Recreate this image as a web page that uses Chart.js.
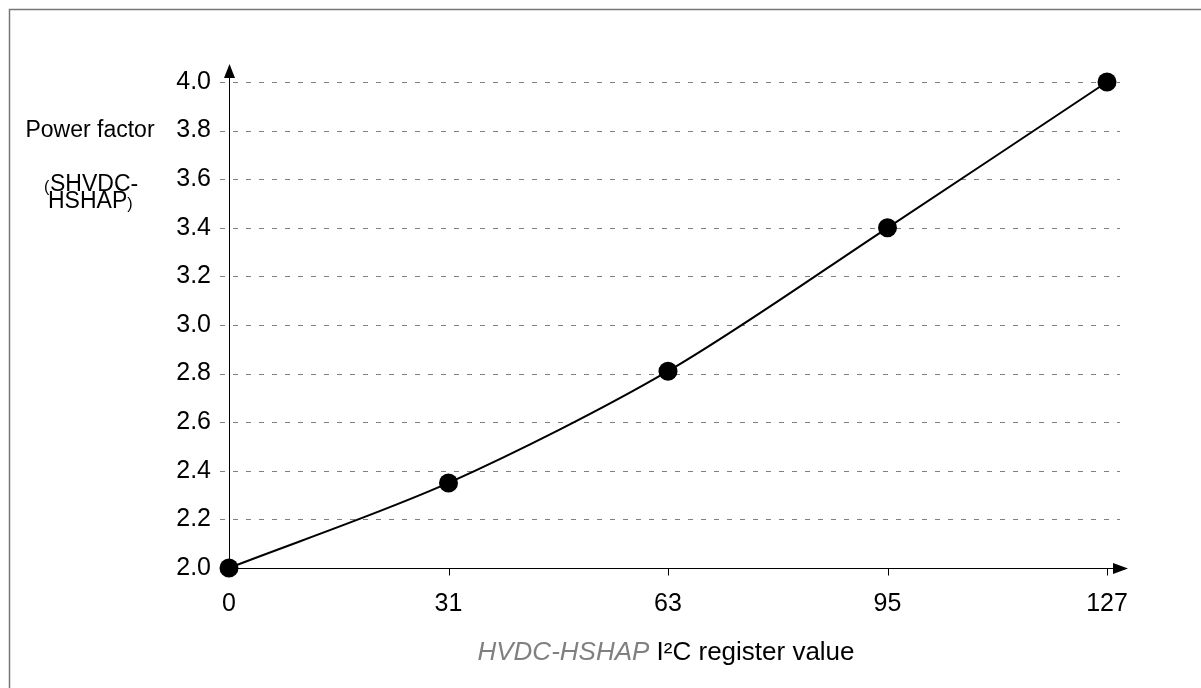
<!DOCTYPE html>
<html>
<head>
<meta charset="utf-8">
<script src="https://cdn.jsdelivr.net/npm/chart.js@4"></script>
<style>
  html, body { margin: 0; padding: 0; background: #fff; }
  #wrap { width: 1201px; height: 688px; position: relative; }
</style>
</head>
<body>
<div id="wrap"><canvas id="chart" width="1201" height="688"></canvas></div>
<script>
const registerValues = ["0", "31", "63", "95", "127"];
const powerFactor = [2.0, 2.35, 2.81, 3.4, 4.0];
const yMin = 2.0;
const yMax = 4.0;
const yStep = 0.2;
const yTitleLines = ["Power factor", "SHVDC-", "HSHAP"];
const xTitleItalic = "HVDC-HSHAP";
const xTitleRest = " I²C register value";

const FONT = "'Liberation Sans', Arial, sans-serif";

// axes, arrows, dashed grid, titles and frame
const decor = {
  id: "decor",
  beforeDatasetsDraw(chart) {
    const ctx = chart.ctx;
    const x = chart.scales.x;
    const y = chart.scales.y;
    const left = x.left;
    const bottom = y.bottom;

    ctx.save();
    // dashed grid
    ctx.strokeStyle = "#808080";
    ctx.lineWidth = 1;
    ctx.setLineDash([5, 8]);
    y.ticks.forEach((t) => {
      if (t.value === yMin) return;
      const py = Math.round(y.getPixelForValue(t.value)) + 0.5;
      ctx.beginPath();
      ctx.moveTo(left - 9, py);
      ctx.lineTo(x.right + 13, py);
      ctx.stroke();
    });
    ctx.setLineDash([]);

    // axes
    ctx.strokeStyle = "#000";
    ctx.fillStyle = "#000";
    ctx.lineWidth = 1;
    const ax = Math.round(left) + 0.5;
    const ay = Math.round(bottom) + 0.5;
    ctx.beginPath();
    ctx.moveTo(ax, ay);
    ctx.lineTo(ax, y.top - 8);
    ctx.moveTo(left - 8, ay);
    ctx.lineTo(x.right + 14, ay);
    ctx.stroke();
    // x ticks
    x.ticks.forEach((t, i) => {
      if (i === 0) return;
      const px = Math.round(x.getPixelForValue(i)) + 0.5;
      ctx.beginPath();
      ctx.moveTo(px, ay);
      ctx.lineTo(px, ay + 7);
      ctx.stroke();
    });
    // arrows
    ctx.beginPath();
    ctx.moveTo(ax, y.top - 18);
    ctx.lineTo(ax - 5.5, y.top - 4);
    ctx.lineTo(ax + 5.5, y.top - 4);
    ctx.closePath();
    ctx.fill();
    ctx.beginPath();
    ctx.moveTo(x.right + 21, ay);
    ctx.lineTo(x.right + 6, ay - 5.5);
    ctx.lineTo(x.right + 6, ay + 5.5);
    ctx.closePath();
    ctx.fill();

    // frame (top and left)
    ctx.strokeStyle = "#777";
    ctx.lineWidth = 1.5;
    ctx.beginPath();
    ctx.moveTo(9.5, chart.height);
    ctx.lineTo(9.5, 9.5);
    ctx.lineTo(chart.width, 9.5);
    ctx.stroke();

    // y title
    ctx.fillStyle = "#000";
    ctx.textBaseline = "middle";
    ctx.textAlign = "center";
    ctx.font = "23px " + FONT;
    ctx.fillText(yTitleLines[0], 90, 131);
    const w1 = ctx.measureText(yTitleLines[1]).width;
    const w2 = ctx.measureText(yTitleLines[2]).width;
    ctx.textAlign = "left";
    const l1 = 50;
    const l2 = 48;
    ctx.fillText(yTitleLines[1], l1, 185);
    ctx.fillText(yTitleLines[2], l2, 202);
    ctx.font = "16px " + FONT;
    ctx.fillText("(", l1 - 6, 188);
    ctx.fillText(")", l2 + w2, 205);

    // x title
    ctx.font = "italic 26px " + FONT;
    const wi = ctx.measureText(xTitleItalic).width;
    ctx.font = "26px " + FONT;
    const wr = ctx.measureText(xTitleRest).width;
    const start = 666 - (wi + wr) / 2;
    ctx.font = "italic 26px " + FONT;
    ctx.fillStyle = "#808080";
    ctx.fillText(xTitleItalic, start, 653);
    ctx.font = "26px " + FONT;
    ctx.fillStyle = "#000";
    ctx.fillText(xTitleRest, start + wi, 653);
    ctx.restore();
  },
};

new Chart(document.getElementById("chart").getContext("2d"), {
  type: "line",
  data: {
    labels: registerValues,
    datasets: [
      {
        data: powerFactor,
        borderColor: "#000",
        borderWidth: 2,
        tension: 0.3,
        pointRadius: 9.5,
        pointBackgroundColor: "#000",
        pointBorderWidth: 0,
        clip: false,
      },
    ],
  },
  options: {
    responsive: false,
    animation: false,
    layout: { padding: { top: 82, right: 94, left: 0, bottom: 0 } },
    plugins: { legend: { display: false }, tooltip: { enabled: false } },
    scales: {
      x: {
        type: "category",
        offset: false,
        grid: { display: false, drawTicks: false },
        border: { display: false },
        ticks: {
          color: "#000",
          font: { family: FONT, size: 25 },
          padding: 21,
          maxRotation: 0,
        },
        afterFit: (s) => { s.height = 120; },
      },
      y: {
        min: yMin,
        max: yMax,
        grid: { display: false, drawTicks: false },
        border: { display: false },
        ticks: {
          stepSize: yStep,
          color: "#000",
          font: { family: FONT, size: 25 },
          padding: 18,
          callback: (v) => v.toFixed(1),
        },
        afterFit: (s) => { s.width = 229; },
      },
    },
  },
  plugins: [decor],
});
</script>
</body>
</html>
